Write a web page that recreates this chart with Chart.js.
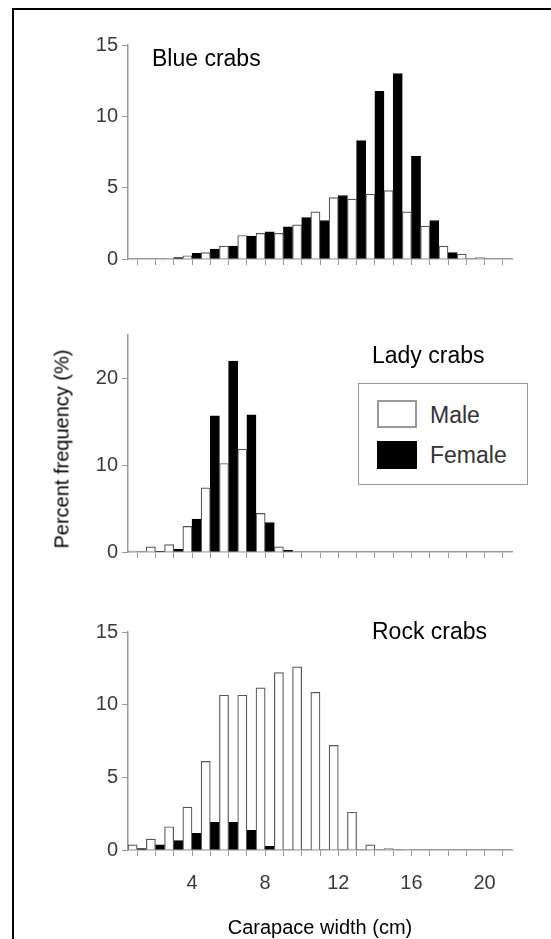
<!DOCTYPE html>
<html>
<head>
<meta charset="utf-8">
<script src="https://cdn.jsdelivr.net/npm/chart.js@4.4.1/dist/chart.umd.min.js"></script>
<style>
  html, body { margin: 0; padding: 0; background: #fff; overflow: hidden; }
  body { width: 551px; height: 939px; position: relative; font-family: "Liberation Sans", Arial, Helvetica, sans-serif; }
  .frame { position: absolute; left: 12px; top: 8px; width: 600px; height: 1000px; border: 2px solid #000; box-sizing: border-box; }
  canvas { position: absolute; left: 60px; }
  .lbl { position: absolute; font-size: 23px; line-height: 23px; color: #000; white-space: nowrap; z-index: 2; }
  .legend { position: absolute; left: 358px; top: 383px; width: 170px; height: 102px; border: 1.5px solid #999; box-sizing: border-box; background: #fff; z-index: 2; }
  .sw { position: absolute; left: 18px; width: 40px; height: 28px; box-sizing: border-box; }
  .lt { position: absolute; left: 71px; font-size: 23px; line-height: 23px; color: #333; }
  .ytitle { position: absolute; left: 62px; top: 449px; transform: translate(-50%, -50%) rotate(-90deg); font-size: 20px; white-space: nowrap; color: #000; }
</style>
</head>
<body>
<div class="frame"></div>
<canvas id="blueChart" width="470" height="250" style="top:25px"></canvas>
<canvas id="ladyChart" width="470" height="253" style="top:315px"></canvas>
<canvas id="rockChart" width="470" height="333" style="top:612px"></canvas>

<div class="lbl" style="left:152px; top:47px">Blue crabs</div>
<div class="lbl" style="left:372px; top:344px">Lady crabs</div>
<div class="lbl" style="left:372px; top:620px">Rock crabs</div>

<div class="legend">
  <div class="sw" style="top:16px; background:#fff; border:2px solid #999"></div>
  <div class="lt" style="top:20px">Male</div>
  <div class="sw" style="top:57px; background:#000"></div>
  <div class="lt" style="top:60px">Female</div>
</div>

<div class="ytitle">Percent frequency (%)</div>

<script>
// carapace width classes (cm)
const widths = ['1', '2', '3', '4', '5', '6', '7', '8', '9', '10', '11', '12', '13', '14', '15', '16', '17', '18', '19', '20', '21'];
const xTickLabels = ['4', '8', '12', '16', '20'];

// percent frequency per class
const blueMale   = [0, 0, 0.05, 0.23, 0.45, 0.9, 1.65, 1.8, 1.8, 2.4, 3.3, 4.3, 4.2, 4.55, 4.8, 3.3, 2.3, 0.9, 0.35, 0.1, 0];
const blueFemale = [0, 0, 0.1, 0.4, 0.7, 0.9, 1.6, 1.9, 2.25, 2.9, 2.7, 4.45, 8.3, 11.75, 13.0, 7.2, 2.7, 0.45, 0, 0, 0];

const ladyMale   = [0.1, 0.6, 0.85, 2.95, 7.4, 10.2, 11.85, 4.45, 0.6, 0, 0, 0, 0, 0, 0, 0, 0, 0, 0, 0, 0];
const ladyFemale = [0, 0.05, 0.3, 3.8, 15.7, 22.0, 15.8, 3.4, 0.2, 0, 0, 0, 0, 0, 0, 0, 0, 0, 0, 0, 0];

const rockMale   = [0.35, 0.75, 1.6, 2.95, 6.1, 10.65, 10.65, 11.15, 12.2, 12.6, 10.85, 7.2, 2.6, 0.35, 0.1, 0.05, 0, 0, 0, 0, 0];
const rockFemale = [0.1, 0.35, 0.65, 1.15, 1.9, 1.9, 1.35, 0.25, 0, 0, 0, 0, 0, 0, 0, 0, 0, 0, 0, 0, 0];

// y axes
const blueTicks = [0, 5, 10, 15];
const ladyTicks = [0, 10, 20];
const rockTicks = [0, 5, 10, 15];
const blueMax = 15;
const ladyMax = 25;
const rockMax = 15;

const axisGray = '#999';
const labelGray = '#3a3a3a';
const fontFamily = '"Liberation Sans", Arial, Helvetica, sans-serif';

function makePanel(id, male, female, yMax, yTicks, bottom) {
    const ctx = document.getElementById(id).getContext('2d');
    return new Chart(ctx, {
        type: 'bar',
        data: {
            labels: widths,
            datasets: [{
                label: 'Male',
                data: male,
                backgroundColor: '#fff',
                borderColor: '#555',
                borderWidth: 1.2,
                categoryPercentage: 1,
                barPercentage: 1
            }, {
                label: 'Female',
                data: female,
                backgroundColor: '#000',
                borderColor: '#000',
                borderWidth: 1,
                categoryPercentage: 1,
                barPercentage: 1
            }]
        },
        options: {
            responsive: false,
            animation: false,
            layout: { padding: { left: 0, right: 18, top: 20, bottom: 0 } },
            plugins: {
                legend: { display: false },
                tooltip: { enabled: false }
            },
            scales: {
                x: {
                    grid: { offset: false, drawOnChartArea: false, drawTicks: true, tickLength: 6, color: axisGray, lineWidth: 1 },
                    border: { display: true, color: axisGray, width: 1.5 },
                    ticks: {
                        autoSkip: false,
                        maxRotation: 0,
                        padding: 15,
                        color: labelGray,
                        font: { family: fontFamily, size: 20 },
                        callback: function(v) {
                            const l = this.getLabelForValue(v);
                            return bottom && xTickLabels.includes(l) ? l : '';
                        }
                    },
                    title: {
                        display: bottom,
                        text: 'Carapace width (cm)',
                        color: '#000',
                        font: { family: fontFamily, size: 20 },
                        padding: { top: 0, bottom: 5 }
                    },
                    afterFit: function(s) { s.height = bottom ? 95 : 12; }
                },
                y: {
                    min: 0,
                    max: yMax,
                    afterBuildTicks: function(s) { s.ticks = yTicks.map(v => ({ value: v })); },
                    grid: { drawOnChartArea: false, drawTicks: true, tickLength: 6, color: axisGray, lineWidth: 1 },
                    border: { display: true, color: axisGray, width: 1.5 },
                    ticks: { padding: 4, color: labelGray, font: { family: fontFamily, size: 20 } },
                    afterFit: function(s) { s.width = 68; }
                }
            }
        }
    });
}

makePanel('blueChart', blueMale, blueFemale, blueMax, blueTicks, false);
makePanel('ladyChart', ladyMale, ladyFemale, ladyMax, ladyTicks, false);
makePanel('rockChart', rockMale, rockFemale, rockMax, rockTicks, true);
</script>
</body>
</html>
